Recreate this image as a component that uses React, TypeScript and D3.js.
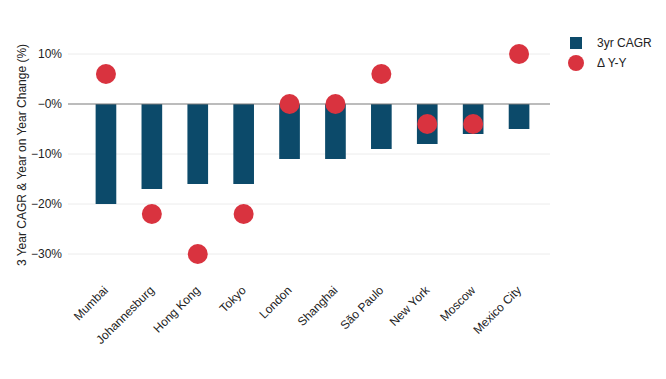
import React from "react";
import * as d3 from "d3";

const cities = ["Mumbai", "Johannesburg", "Hong Kong", "Tokyo", "London", "Shanghai", "São Paulo", "New York", "Moscow", "Mexico City"];
const cagr = [-20, -17, -16, -16, -11, -11, -9, -8, -6, -5];
const yoy = [6, -22, -30, -22, 0, 0, 6, -4, -4, 10];
const yTicks = [10, 0, -10, -20, -30];
const seriesNames = ["3yr CAGR", "Δ Y-Y"];

const W = 666, H = 379;
const BAR = "#0c4a6a";
const DOT = "#d9333f";
const FONT = "'Liberation Sans', Arial, Helvetica, sans-serif";

export default function App() {
  const x = d3.scaleBand<string>().domain(cities).range([83, 542]).paddingInner(0.55).paddingOuter(0.275);
  const y = d3.scaleLinear().domain([-30, 10]).range([254, 54]);
  const fmt = (v: number) => (v <= 0 ? "\u2212" + Math.abs(v) + "%" : v + "%");
  return (
    <svg width={W} height={H} style={{ position: "absolute", left: 0, top: 0, fontFamily: FONT }}>
      <rect width={W} height={H} fill="#fff" />
      {yTicks.map((t) => (
        <g key={t}>
          {t !== 0 && <line x1={68} x2={550} y1={y(t)} y2={y(t)} stroke="#ececec" strokeWidth={1} />}
          <text x={62} y={y(t)} dy="0.35em" textAnchor="end" fontSize={12} fill="#222">{fmt(t)}</text>
        </g>
      ))}
      {cities.map((c, i) => (
        <rect key={c} x={x(c)} width={x.bandwidth()} y={y(Math.max(0, cagr[i]))} height={Math.abs(y(cagr[i]) - y(0))} fill={BAR} />
      ))}
      <line x1={68} x2={550} y1={y(0)} y2={y(0)} stroke="#7a7a7a" strokeWidth={1.2} />
      {cities.map((c, i) => (
        <circle key={c} cx={(x(c) as number) + x.bandwidth() / 2} cy={y(yoy[i])} r={10} fill={DOT} />
      ))}
      {cities.map((c) => {
        const cx = (x(c) as number) + x.bandwidth() / 2 + 3;
        return (
          <text key={c} transform={`translate(${cx},${291}) rotate(-45)`} textAnchor="end" fontSize={12} fill="#222">{c}</text>
        );
      })}
      <text transform={`translate(26,155) rotate(-90)`} textAnchor="middle" fontSize={12} fill="#222">3 Year CAGR &amp; Year on Year Change (%)</text>
      <rect x={570} y={37} width={12} height={12} fill={BAR} />
      <text x={597} y={43} dy="0.35em" fontSize={12} fill="#222">{seriesNames[0]}</text>
      <circle cx={576} cy={63} r={8} fill={DOT} />
      <text x={597} y={63} dy="0.35em" fontSize={12} fill="#222">{seriesNames[1]}</text>
    </svg>
  );
}
